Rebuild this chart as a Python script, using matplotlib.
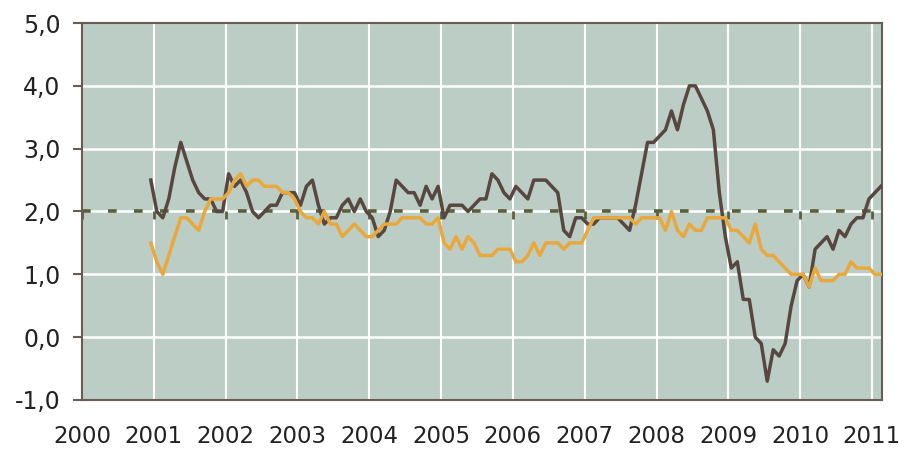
import numpy as np
import matplotlib
matplotlib.use("Agg")
from matplotlib import pyplot as plt

# inflacion interanual, mensual, dic 2000 - feb 2011
general = [2.5,
           2.0, 1.9, 2.2, 2.7, 3.1, 2.8, 2.5, 2.3, 2.2, 2.2, 2.0, 2.0,
           2.6, 2.4, 2.5, 2.3, 2.0, 1.9, 2.0, 2.1, 2.1, 2.3, 2.3, 2.3,
           2.1, 2.4, 2.5, 2.1, 1.8, 1.9, 1.9, 2.1, 2.2, 2.0, 2.2, 2.0,
           1.9, 1.6, 1.7, 2.0, 2.5, 2.4, 2.3, 2.3, 2.1, 2.4, 2.2, 2.4,
           1.9, 2.1, 2.1, 2.1, 2.0, 2.1, 2.2, 2.2, 2.6, 2.5, 2.3, 2.2,
           2.4, 2.3, 2.2, 2.5, 2.5, 2.5, 2.4, 2.3, 1.7, 1.6, 1.9, 1.9,
           1.8, 1.8, 1.9, 1.9, 1.9, 1.9, 1.8, 1.7, 2.1, 2.6, 3.1, 3.1,
           3.2, 3.3, 3.6, 3.3, 3.7, 4.0, 4.0, 3.8, 3.6, 3.3, 2.3, 1.6,
           1.1, 1.2, 0.6, 0.6, 0.0, -0.1, -0.7, -0.2, -0.3, -0.1, 0.5, 0.9,
           1.0, 0.8, 1.4, 1.5, 1.6, 1.4, 1.7, 1.6, 1.8, 1.9, 1.9, 2.2,
           2.3, 2.4]

subyacente = [1.5,
              1.2, 1.0, 1.3, 1.6, 1.9, 1.9, 1.8, 1.7, 2.0, 2.2, 2.2, 2.2,
              2.3, 2.5, 2.6, 2.4, 2.5, 2.5, 2.4, 2.4, 2.4, 2.3, 2.3, 2.2,
              2.0, 1.9, 1.9, 1.8, 2.0, 1.8, 1.8, 1.6, 1.7, 1.8, 1.7, 1.6,
              1.6, 1.7, 1.8, 1.8, 1.8, 1.9, 1.9, 1.9, 1.9, 1.8, 1.8, 1.9,
              1.5, 1.4, 1.6, 1.4, 1.6, 1.5, 1.3, 1.3, 1.3, 1.4, 1.4, 1.4,
              1.2, 1.2, 1.3, 1.5, 1.3, 1.5, 1.5, 1.5, 1.4, 1.5, 1.5, 1.5,
              1.7, 1.9, 1.9, 1.9, 1.9, 1.9, 1.9, 1.9, 1.8, 1.9, 1.9, 1.9,
              1.9, 1.7, 2.0, 1.7, 1.6, 1.8, 1.7, 1.7, 1.9, 1.9, 1.9, 1.9,
              1.7, 1.7, 1.6, 1.5, 1.8, 1.4, 1.3, 1.3, 1.2, 1.1, 1.0, 1.0,
              1.0, 0.8, 1.1, 0.9, 0.9, 0.9, 1.0, 1.0, 1.2, 1.1, 1.1, 1.1,
              1.0, 1.0]

objetivo = 2.0
anios = list(range(2000, 2012))
yticks = [-1, 0, 1, 2, 3, 4, 5]

n = len(general)
t = 2000 + (11.5 + np.arange(n)) / 12.0

fig = plt.figure(figsize=(9.06, 4.5), dpi=100)
ax = fig.add_axes([82/906, 1 - 400/450, 800/906, 377/450])
ax.set_facecolor("#bccdc6")

ax.set_xlim(2000, 2011.14)
ax.set_ylim(-1, 5)

for a in anios[1:]:
    ax.axvline(a, color="white", lw=1.5, zorder=1)
for v in yticks[1:-1]:
    ax.axhline(v, color="white", lw=1.8, zorder=1)

# linea del 2% con marcas de año
ax.axhline(objetivo, color="#5c5f3b", lw=2.6, linestyle=(0, (2.4, 4.8)), zorder=2)
ax.vlines(anios, objetivo - 0.12, objetivo, color="#5c5f3b", lw=2.0, zorder=2)

ax.plot(t, general, color="#574740", lw=2.5, zorder=3)
ax.plot(t, subyacente, color="#e9a83c", lw=2.5, zorder=4)

for s in ax.spines.values():
    s.set_color("#695c55")
    s.set_linewidth(1.5)

ax.set_yticks(yticks)
ax.set_yticklabels([("%.1f" % v).replace(".", ",") for v in yticks])
ax.set_xticks(anios)
ax.set_xticklabels([str(a) for a in anios])
ax.tick_params(axis="y", length=6.5, width=1.5, color="#695c55", pad=9,
               labelsize=17, labelcolor="#222222")
ax.tick_params(axis="x", length=0, pad=18, labelsize=16.5, labelcolor="#222222")

fig.savefig("out.png", dpi=100)
